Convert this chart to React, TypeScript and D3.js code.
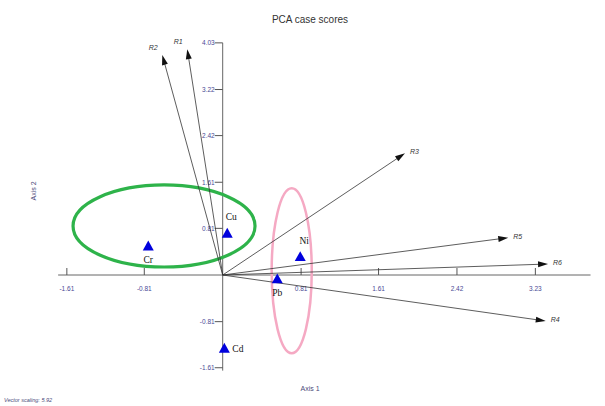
import React from "react";
import * as d3 from "d3";

const vectorNames = ["R1", "R2", "R3", "R5", "R6", "R4"];
const vectorX = [-0.366, -0.624, 1.883, 2.95, 3.361, 3.337];
const vectorY = [3.92, 3.82, 2.113, 0.648, 0.191, -0.799];

const pointNames = ["Cu", "Cr", "Ni", "Pb", "Cd"];
const pointX = [0.047, -0.769, 0.801, 0.564, 0.017];
const pointY = [0.724, 0.503, 0.318, -0.069, -1.273];
const pointLabelPos = ["above", "below", "above", "below", "right"];

const xTickValues = [-1.61, -0.81, 0.81, 1.61, 2.42, 3.23];
const xTickLabels = ["-1.61", "-0.81", "0.81", "1.61", "2.42", "3.23"];
const yTickValues = [4.03, 3.22, 2.42, 1.61, 0.81, -0.81, -1.61];
const yTickLabels = ["4.03", "3.22", "2.42", "1.61", "0.81", "-0.81", "-1.61"];

// groups: [cx, cy, rx, ry]
const groupNames = ["green", "pink"];
const groupCx = [-0.606, 0.713];
const groupCy = [0.851, 0.073];
const groupRx = [0.94, 0.207];
const groupRy = [0.712, 1.432];
const groupColors = ["#2eb34a", "#f5a9c3"];

const W = 605;
const H = 406;

export default function App() {
  const x = d3.scaleLinear().domain([0, 1]).range([222.7, 222.7 + 96.8]);
  const y = d3.scaleLinear().domain([0, 1]).range([275, 275 - 57.6]);
  const ox = x(0);
  const oy = y(0);
  const tickColor = "#4a4a96";

  const arrowHead = (tx: number, ty: number) => {
    const ang = Math.atan2(ty - oy, tx - ox);
    const len = 10;
    const hw = 3;
    const bx = tx - len * Math.cos(ang);
    const by = ty - len * Math.sin(ang);
    const px = -Math.sin(ang) * hw;
    const py = Math.cos(ang) * hw;
    return `${tx},${ty} ${bx + px},${by + py} ${bx - px},${by - py}`;
  };

  const tri = (cx: number, cy: number) => {
    const s = 5.5;
    return `${cx},${cy - s} ${cx + s},${cy + s * 0.8} ${cx - s},${cy + s * 0.8}`;
  };

  return (
    <svg
      width={W}
      height={H}
      style={{ position: "absolute", left: 0, top: 0, background: "#fff" }}
      fontFamily="Liberation Sans, Arial, sans-serif"
    >
      <rect x={0} y={0} width={W} height={H} fill="#fff" />
      <text x={310} y={23} textAnchor="middle" fontSize={10} fill="#333">
        PCA case scores
      </text>

      {/* axes */}
      <line x1={x(-1.7)} x2={x(3.8)} y1={oy} y2={oy} stroke="#666" strokeWidth={1} />
      <line x1={ox} x2={ox} y1={y(4.03)} y2={y(-1.66)} stroke="#666" strokeWidth={1} />

      {xTickValues.map((v, i) => (
        <g key={"xt" + i}>
          <line x1={x(v)} x2={x(v)} y1={oy - 7} y2={oy} stroke="#555" strokeWidth={1} />
          <text x={x(v)} y={oy + 16} textAnchor="middle" fontSize={6.5} fill={tickColor}>
            {xTickLabels[i]}
          </text>
        </g>
      ))}
      {yTickValues.map((v, i) => (
        <g key={"yt" + i}>
          <line x1={ox - 8} x2={ox} y1={y(v)} y2={y(v)} stroke="#555" strokeWidth={1} />
          <text x={ox - 8} y={y(v) + 2.3} textAnchor="end" fontSize={6.5} fill={tickColor}>
            {yTickLabels[i]}
          </text>
        </g>
      ))}

      <text x={310} y={391} textAnchor="middle" fontSize={7} fill="#4a4a7a">
        Axis 1
      </text>
      <text
        transform={`translate(36,191) rotate(-90)`}
        textAnchor="middle"
        fontSize={7}
        fill="#4a4a7a"
      >
        Axis 2
      </text>
      <text x={4} y={402} fontSize={5.5} fontStyle="italic" fill="#4a4a7a">
        Vector scaling: 5.92
      </text>

      {/* ellipses */}
      {groupNames.map((g, i) => (
        <ellipse
          key={g}
          cx={x(groupCx[i])}
          cy={y(groupCy[i])}
          rx={x(groupRx[i]) - x(0)}
          ry={y(0) - y(groupRy[i])}
          fill="none"
          stroke={groupColors[i]}
          strokeWidth={i === 0 ? 3.2 : 2.5}
        />
      ))}

      {/* vectors */}
      {vectorNames.map((n, i) => {
        const tx = x(vectorX[i]);
        const ty = y(vectorY[i]);
        const ang = Math.atan2(ty - oy, tx - ox);
        const ex = tx - 8 * Math.cos(ang);
        const ey = ty - 8 * Math.sin(ang);
        const up = vectorY[i] > 3;
        return (
          <g key={n}>
            <line x1={ox} y1={oy} x2={ex} y2={ey} stroke="#333" strokeWidth={0.8} />
            <polygon points={arrowHead(tx, ty)} fill="#111" />
            <text
              x={up ? tx - 9 : tx + 5}
              y={up ? ty - 5 : ty + 1}
              textAnchor={up ? "middle" : "start"}
              fontSize={7}
              fontStyle="italic"
              fill="#333"
            >
              {n}
            </text>
          </g>
        );
      })}

      {/* points */}
      {pointNames.map((n, i) => {
        const cx = x(pointX[i]);
        const cy = y(pointY[i]);
        const pos = pointLabelPos[i];
        let lx = cx;
        let ly = cy;
        let anchor: "start" | "middle" = "middle";
        if (pos === "above") {
          lx = cx + 4;
          ly = cy - 13;
        } else if (pos === "below") {
          ly = cy + 17;
        } else {
          lx = cx + 8;
          ly = cy + 3.5;
          anchor = "start";
        }
        return (
          <g key={n}>
            <polygon points={tri(cx, cy)} fill="#0000dd" />
            <text
              x={lx}
              y={ly}
              textAnchor={anchor}
              fontSize={9.5}
              fontFamily="Liberation Serif, Times New Roman, serif"
              fill="#111"
            >
              {n}
            </text>
          </g>
        );
      })}
    </svg>
  );
}
